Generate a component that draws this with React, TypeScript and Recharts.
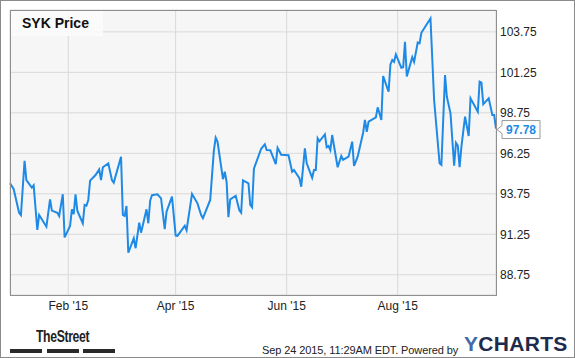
import { LineChart, Line, XAxis, YAxis, CartesianGrid, ReferenceDot } from 'recharts'

// SYK daily close
const DATES = [
  '2014-12-31', '2015-01-02', '2015-01-05', '2015-01-06', '2015-01-08', '2015-01-09', '2015-01-12', '2015-01-13',
  '2015-01-15', '2015-01-16', '2015-01-20', '2015-01-22', '2015-01-23', '2015-01-26', '2015-01-27', '2015-01-29',
  '2015-01-30', '2015-02-02', '2015-02-03', '2015-02-04', '2015-02-05', '2015-02-06', '2015-02-09', '2015-02-10',
  '2015-02-11', '2015-02-12', '2015-02-13', '2015-02-16', '2015-02-18', '2015-02-19', '2015-02-20', '2015-02-23',
  '2015-02-25', '2015-02-26', '2015-03-02', '2015-03-03', '2015-03-04', '2015-03-05', '2015-03-06', '2015-03-09',
  '2015-03-10', '2015-03-12', '2015-03-13', '2015-03-16', '2015-03-17', '2015-03-18', '2015-03-19', '2015-03-22',
  '2015-03-24', '2015-03-26', '2015-03-27', '2015-03-30', '2015-04-01', '2015-04-02', '2015-04-06', '2015-04-07',
  '2015-04-10', '2015-04-13', '2015-04-15', '2015-04-16', '2015-04-20', '2015-04-22', '2015-04-23', '2015-04-24',
  '2015-04-27', '2015-04-28', '2015-04-29', '2015-04-30', '2015-05-01', '2015-05-04', '2015-05-06', '2015-05-07',
  '2015-05-08', '2015-05-11', '2015-05-12', '2015-05-13', '2015-05-14', '2015-05-18', '2015-05-20', '2015-05-21',
  '2015-05-23', '2015-05-26', '2015-05-27', '2015-05-29', '2015-06-02', '2015-06-04', '2015-06-05', '2015-06-08',
  '2015-06-09', '2015-06-11', '2015-06-12', '2015-06-15', '2015-06-16', '2015-06-17', '2015-06-18', '2015-06-19',
  '2015-06-22', '2015-06-23', '2015-06-24', '2015-06-25', '2015-06-26', '2015-06-29', '2015-07-01', '2015-07-02',
  '2015-07-05', '2015-07-07', '2015-07-08', '2015-07-10', '2015-07-13', '2015-07-14', '2015-07-15', '2015-07-16',
  '2015-07-20', '2015-07-21', '2015-07-23', '2015-07-24', '2015-07-27', '2015-07-28', '2015-07-29', '2015-07-30',
  '2015-07-31', '2015-08-03', '2015-08-04', '2015-08-05', '2015-08-06', '2015-08-09', '2015-08-10', '2015-08-12',
  '2015-08-13', '2015-08-14', '2015-08-19', '2015-08-21', '2015-08-24', '2015-08-25', '2015-08-27', '2015-08-28',
  '2015-08-30', '2015-09-01', '2015-09-02', '2015-09-03', '2015-09-04', '2015-09-05', '2015-09-07', '2015-09-09',
  '2015-09-10', '2015-09-14', '2015-09-15', '2015-09-16', '2015-09-17', '2015-09-20', '2015-09-22', '2015-09-23',
  '2015-09-24',
]

const PRICES = [
  94.4, 94.05, 92.58, 92.44, 95.79, 94.6, 94.13, 94.27,
  91.52, 92.44, 91.72, 93.41, 92.71, 92.58, 92.38, 93.72,
  91.06, 91.76, 92.79, 92.5, 93.72, 92.69, 91.93, 93.06,
  93.02, 93.37, 94.56, 94.91, 95.26, 94.6, 95.39, 95.63,
  94.6, 94.44, 96.04, 92.44, 92.38, 93.0, 90.11, 91.0,
  90.39, 91.97, 91.35, 92.79, 91.93, 93.32, 93.66, 93.72,
  93.47, 91.56, 92.65, 93.57, 91.18, 91.15, 91.77, 91.5,
  93.74, 93.16, 92.44, 92.24, 93.37, 96.42, 97.21, 96.97,
  94.65, 95.11, 94.48, 92.3, 93.41, 93.63, 92.73, 92.58,
  94.58, 94.4, 93.06, 92.92, 95.3, 96.53, 96.81, 96.45,
  96.44, 95.58, 96.59, 96.16, 96.13, 95.11, 95.22, 94.71,
  94.19, 96.56, 95.63, 94.74, 95.22, 95.22, 97.18, 96.99,
  97.42, 96.62, 96.7, 96.45, 97.38, 95.39, 96.08, 95.84,
  96.04, 96.97, 95.47, 96.04, 97.52, 98.31, 97.58, 98.2,
  98.47, 99.09, 98.31, 101.02, 100.05, 101.74, 102.01, 101.9,
  102.36, 101.53, 101.56, 103.14, 101.0, 102.19, 101.9, 103.09,
  103.04, 103.69, 104.58, 99.54, 95.63, 95.53, 101.08, 99.74,
  98.72, 95.48, 96.9, 96.72, 95.39, 96.66, 98.51, 97.32,
  99.65, 98.82, 100.67, 100.61, 99.29, 99.65, 98.61, 98.61,
  97.78,
]

const Y_TICKS = [88.75, 91.25, 93.75, 96.25, 98.75, 101.25, 103.75]
const X_TICK_DATES = ['2015-02-01', '2015-04-01', '2015-06-01', '2015-08-01']
const MONTHS = ['Jan', 'Feb', 'Mar', 'Apr', 'May', 'Jun', 'Jul', 'Aug', 'Sep', 'Oct', 'Nov', 'Dec']

const LINE_COLOR = '#1e8ae6'
const FONT = '"Liberation Sans", Arial, sans-serif'

const data = DATES.map((d, i) => ({ t: Date.parse(d), price: PRICES[i] }))
const xTicks = X_TICK_DATES.map((d) => Date.parse(d))
const last = data[data.length - 1]

const formatMonth = (t: number) => {
  const d = new Date(t)
  return `${MONTHS[d.getUTCMonth()]} '${String(d.getUTCFullYear()).slice(2)}`
}

function LastPriceTag(props: any) {
  const { cx, cy } = props
  const x = cx + 4
  const y = cy + 1
  return (
    <g>
      <path
        d={`M${x - 3},${y} L${x + 2},${y - 4} L${x + 2},${y - 9} L${x + 40},${y - 9} L${x + 40},${y + 9} L${x + 2},${y + 9} L${x + 2},${y + 4} Z`}
        fill="#fff"
        stroke="#9a9a9a"
        strokeWidth={1}
      />
      <text x={x + 21} y={y + 4.5} textAnchor="middle" fontSize={12} fontWeight="bold" fill={LINE_COLOR} fontFamily={FONT}>
        {PRICES[PRICES.length - 1].toFixed(2)}
      </text>
    </g>
  )
}

export default function App() {
  return (
    <div
      style={{
        position: 'absolute',
        left: 0,
        top: 0,
        width: 575,
        height: 358,
        background: '#fff',
        border: '1px solid #8a8a8a',
        boxSizing: 'border-box',
        fontFamily: FONT,
      }}
    >
      <div style={{ position: 'absolute', left: -1, top: -1 }}>
        <LineChart width={575} height={358} data={data} margin={{ top: 10, right: 0, bottom: 38, left: 10 }}>
          <CartesianGrid stroke="#d9d9d9" fill="#f6f6f6" />
          <XAxis
            dataKey="t"
            type="number"
            domain={['dataMin', 'dataMax']}
            ticks={xTicks}
            tickFormatter={formatMonth}
            axisLine={false}
            tickLine={false}
            tickSize={0}
            tickMargin={6}
            height={25}
            tick={{ fill: '#222', fontSize: 12, fontFamily: FONT }}
          />
          <YAxis
            orientation="right"
            domain={[87.5, 105.1]}
            ticks={Y_TICKS}
            allowDataOverflow
            tickFormatter={(v: number) => v.toFixed(2)}
            axisLine={false}
            tickLine={false}
            tickSize={0}
            tickMargin={4}
            width={79}
            tick={{ fill: '#222', fontSize: 12, fontFamily: FONT }}
          />
          <Line
            type="linear"
            dataKey="price"
            stroke={LINE_COLOR}
            strokeWidth={2}
            dot={false}
            isAnimationActive={false}
          />
          <ReferenceDot x={last.t} y={last.price} r={0} ifOverflow="visible" shape={LastPriceTag} />
        </LineChart>
      </div>

      {/* plot frame */}
      <div
        style={{
          position: 'absolute',
          left: 9,
          top: 9,
          width: 487,
          height: 286,
          border: '1px solid #8f8f8f',
          boxSizing: 'border-box',
          pointerEvents: 'none',
        }}
      />

      {/* legend */}
      <div
        style={{
          position: 'absolute',
          left: 10,
          top: 10,
          width: 92,
          height: 25,
          lineHeight: '25px',
          paddingLeft: 11,
          boxSizing: 'border-box',
          background: 'rgba(252,252,252,0.85)',
          fontSize: 14,
          fontWeight: 'bold',
          color: '#111',
        }}
      >
        SYK Price
      </div>

      {/* footer */}
      <div
        style={{
          position: 'absolute',
          left: 35,
          top: 327,
          fontSize: 17,
          lineHeight: '17px',
          fontWeight: 'bold',
          color: '#222',
          transform: 'scaleX(0.72)',
          transformOrigin: 'left top',
          letterSpacing: -0.5,
        }}
      >
        TheStreet
      </div>
      {[9, 46, 82].map((x) => (
        <div key={x} style={{ position: 'absolute', left: x, top: 348, width: 32, height: 4, background: '#2a2a2a' }} />
      ))}
      <div style={{ position: 'absolute', left: 261, top: 343, fontSize: 11, lineHeight: '12px', color: '#222', letterSpacing: -0.1 }}>
        Sep 24 2015, 11:29AM EDT. Powered by
      </div>
      <div
        style={{
          position: 'absolute',
          left: 463,
          top: 332,
          fontSize: 21,
          lineHeight: '21px',
          fontWeight: 'bold',
          color: '#1d2b4c',
          letterSpacing: 0.3,
        }}
      >
        <span style={{ color: '#4569a8' }}>Y</span>CHARTS
      </div>
    </div>
  )
}
